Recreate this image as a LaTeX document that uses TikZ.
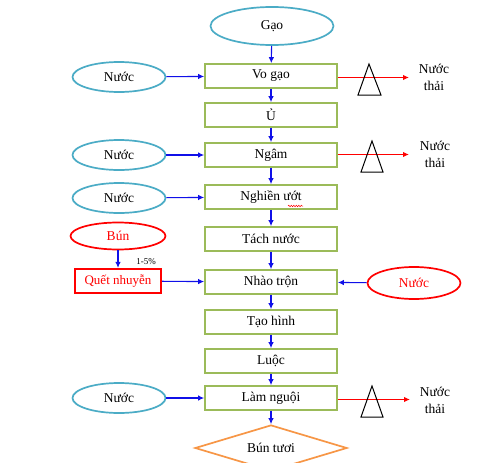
\documentclass[tikz,border=0pt]{standalone}
\usepackage{fontspec}
\setmainfont{Liberation Serif}
\usetikzlibrary{shapes.geometric,arrows.meta,decorations.pathmorphing}
\definecolor{ellblue}{HTML}{4BACC6}
\definecolor{boxgreen}{HTML}{9BBB59}
\definecolor{dorange}{HTML}{F79646}
\definecolor{arrblue}{HTML}{1010E8}
\definecolor{wred}{HTML}{FF0000}
\tikzset{
  x=1pt,y=-1pt,
  every node/.style={font=\fontsize{13.5}{15}\selectfont},
  stepbox/.style={draw=boxgreen,line width=1.7pt,minimum width=132pt,minimum height=24pt,inner sep=0pt},
  inell/.style={ellipse,draw=ellblue,line width=1.7pt,minimum width=93pt,minimum height=30pt,inner sep=0pt},
  redell/.style={ellipse,draw=wred,line width=1.7pt,minimum width=94pt,minimum height=29pt,inner sep=0pt,text=wred},
  barrow/.style={draw=arrblue,line width=1.1pt,-{Latex[length=6pt,width=5.5pt]}},
  rarrow/.style={draw=wred,line width=1.1pt,-{Latex[length=6pt,width=5.5pt]}},
  tri/.style={draw=black,line width=1pt},
  waste/.style={align=center,font=\fontsize{13.5}{17}\selectfont}
}
\begin{document}
\begin{tikzpicture}
\useasboundingbox (0,0) rectangle (485,463);
\fill[white] (0,0) rectangle (485,463);
% main column
\node[ellipse,draw=ellblue,line width=1.7pt,minimum width=123pt,minimum height=38pt,inner sep=0pt] (gao) at (272,26) {Gạo};
\node[stepbox] (vo) at (271,76) {Vo gạo};
\node[stepbox] (u) at (271,115) {Ủ};
\node[stepbox] (ngam) at (271,155) {Ngâm};
\node[stepbox] (nghien) at (271,197) {Nghiền ướt};
\node[stepbox] (tach) at (271,239) {Tách nước};
\node[stepbox] (nhao) at (271,282) {Nhào trộn};
\node[stepbox] (taohinh) at (271,322) {Tạo hình};
\node[stepbox] (luoc) at (271,361) {Luộc};
\node[stepbox] (lam) at (271,398) {Làm nguội};
\node[diamond,draw=dorange,line width=1.7pt,aspect=3.3,minimum width=152pt,minimum height=46pt,inner sep=0pt] (buntuoi) at (271,448) {Bún tươi};
% spell-check squiggle
\draw[wred,line width=0.5pt,decorate,decoration={snake,amplitude=0.7pt,segment length=2.5pt}] (288,206) -- (303,206);
% vertical arrows
\draw[barrow] (gao) -- (vo);
\draw[barrow] (vo) -- (u);
\draw[barrow] (u) -- (ngam);
\draw[barrow] (ngam) -- (nghien);
\draw[barrow] (nghien) -- (tach);
\draw[barrow] (tach) -- (nhao);
\draw[barrow] (nhao) -- (taohinh);
\draw[barrow] (taohinh) -- (luoc);
\draw[barrow] (luoc) -- (lam);
\draw[barrow] (lam) -- (buntuoi);
% left inputs
\node[inell] (n1) at (119,77) {Nước};
\node[inell] (n2) at (119,155) {Nước};
\node[inell] (n3) at (119,198) {Nước};
\node[inell] (n4) at (119,398) {Nước};
\draw[barrow] (n1) -- (vo);
\draw[barrow] (n2) -- (ngam);
\draw[barrow] (n3) -- (nghien);
\draw[barrow] (n4) -- (lam);
% bun recycle
\node[redell,minimum width=95pt,minimum height=27pt] (bun) at (118,236) {Bún};
\node[draw=wred,line width=2.2pt,minimum width=86pt,minimum height=24pt,inner sep=0pt,text=wred,font=\fontsize{13}{15}\selectfont] (quet) at (118,281) {Quết nhuyễn};
\draw[barrow] (bun) -- (quet);
\node[font=\fontsize{9}{10}\selectfont] (pct) at (146,262) {1-5\%};
\draw[barrow] (quet) -- (nhao);
\node[redell,minimum width=93pt,minimum height=32pt] (nr) at (414,283) {Nước};
\draw[barrow] (nr) -- (nhao);
% waste water
\coordinate (w1) at (409,77.5);
\coordinate (w2) at (409,154.5);
\coordinate (w3) at (410,399.5);
\draw[rarrow] (vo.east |- w1) -- (w1);
\draw[rarrow] (ngam.east |- w2) -- (w2);
\draw[rarrow] (lam.east |- w3) -- (w3);
\draw[tri] (369,64) -- (381,95) -- (358,95) -- cycle;
\draw[tri] (372,141) -- (383,172) -- (361,172) -- cycle;
\draw[tri] (372,386) -- (383,417) -- (361,417) -- cycle;
\node[waste] (t1) at (434,77) {Nước\\thải};
\node[waste] (t2) at (435,154) {Nước\\thải};
\node[waste] (t3) at (435,400) {Nước\\thải};
\end{tikzpicture}
\end{document}
